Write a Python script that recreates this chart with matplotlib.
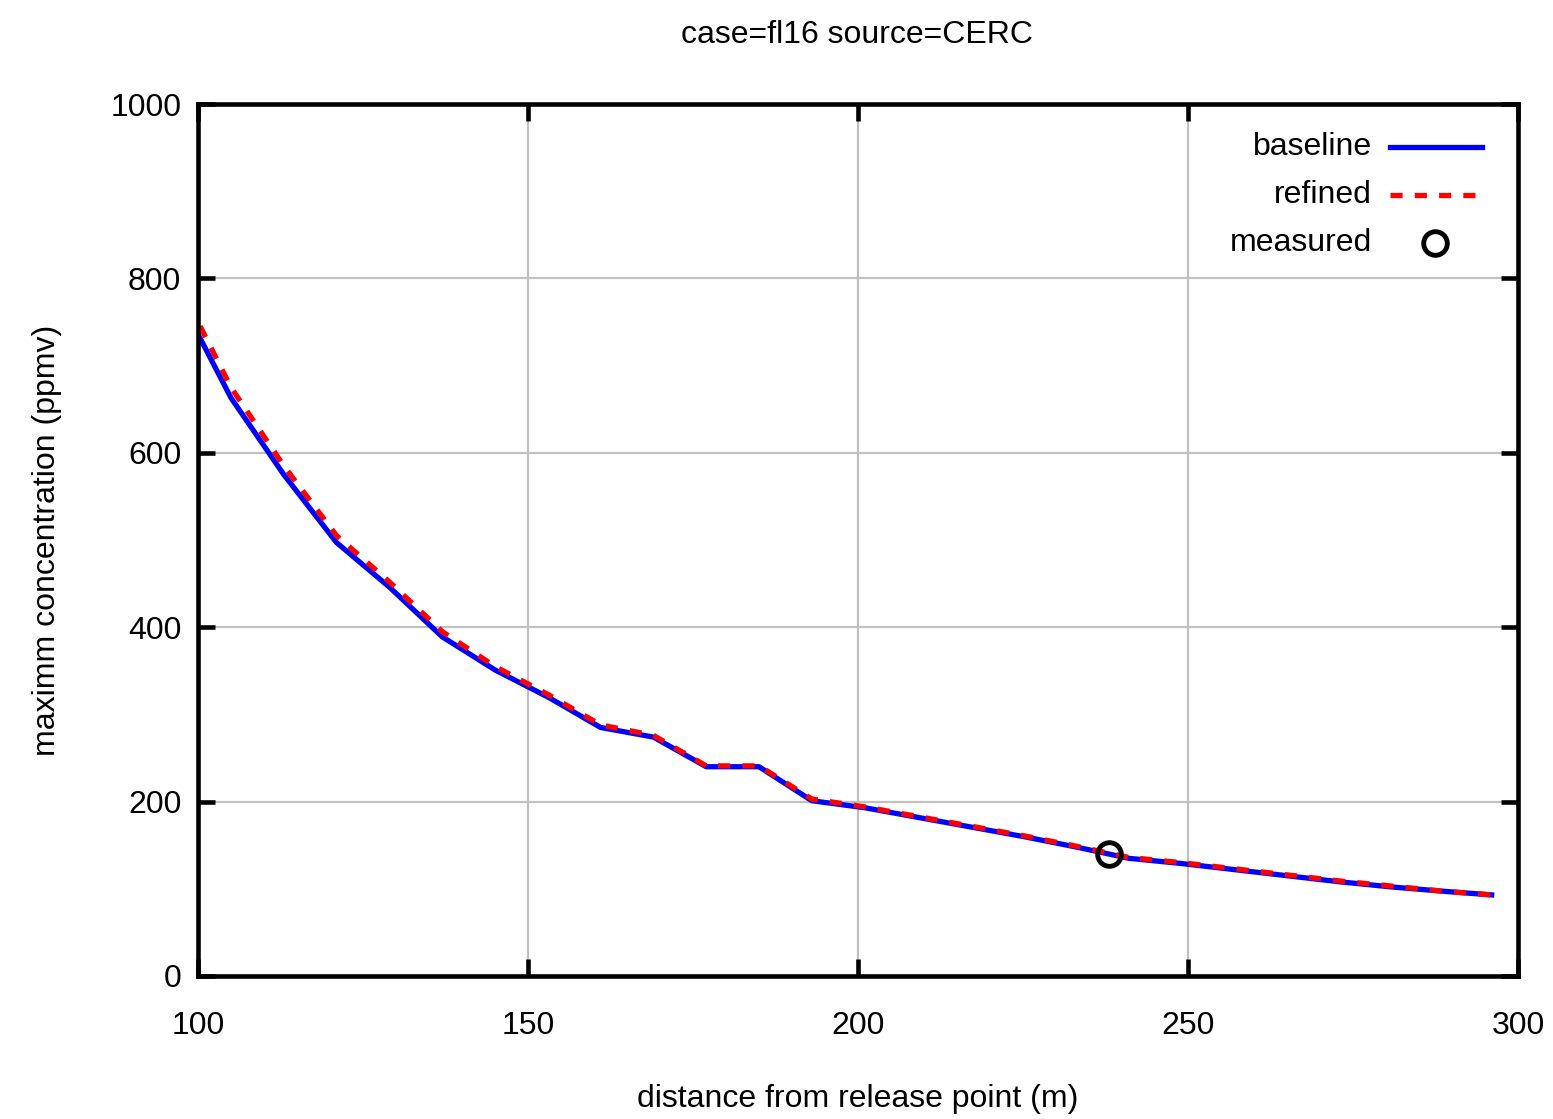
import matplotlib
matplotlib.use("Agg")
import matplotlib.pyplot as plt

plt.rcParams['font.family'] = ['Liberation Sans', 'DejaVu Sans']

# distance from release point (m), model output every ~8 m
distance = [97, 105, 113, 121, 129, 137, 145, 153, 161, 169, 177, 185, 193,
            201, 209, 217, 225, 233, 241, 249, 257, 265, 273, 281, 289, 296]
baseline = [780, 663, 575, 497, 446, 389, 351, 320, 285, 274, 240, 240, 201,
            193, 182, 171, 160, 148, 135, 129, 122, 115, 108, 102, 97, 93]
refined = [795, 675, 585, 505, 452, 395, 355, 323, 288, 276, 241, 241, 203,
           194, 183, 172, 161, 149, 136, 130, 123, 116, 109, 103, 97, 93]
measured_x = [238]
measured_y = [140]

xticks = [100, 150, 200, 250, 300]
yticks = [0, 200, 400, 600, 800, 1000]

FS = 23

fig = plt.figure(figsize=(15.53, 11.19), dpi=100)
ax = fig.add_axes([0.1275, 0.1278, 0.85, 0.7792])

ax.plot(distance, baseline, color='#0000ff', lw=3.8)
ax.plot(distance, refined, color='#ff0000', lw=3.8, dashes=(2.3, 2.3))
ax.plot(measured_x, measured_y, 'o', mfc='none', mec='black', ms=17, mew=3.5)

ax.set_xlim(100, 300)
ax.set_ylim(0, 1000)
ax.set_xticks(xticks)
ax.set_yticks(yticks)
ax.grid(True, color='#c0c0c0', lw=1.6)
ax.tick_params(direction='in', length=12, width=3.3, top=True, right=True,
               labelsize=FS)
ax.tick_params(axis='x', pad=25)
ax.tick_params(axis='y', pad=12)
for s in ax.spines.values():
    s.set_linewidth(3.3)

ax.set_xlabel('distance from release point (m)', fontsize=FS, labelpad=31)
ax.set_ylabel('maximm concentration (ppmv)', fontsize=FS, labelpad=35)
fig.text(0.5518, 0.969, 'case=fl16 source=CERC', fontsize=FS,
         ha='center', va='center')

# legend, gnuplot style: text right-aligned, sample to the right
tr = ax.transAxes
rows = [0.951, 0.8956, 0.841]
ax.text(0.8894, rows[0], 'baseline', transform=tr, ha='right', va='center', fontsize=FS)
ax.text(0.8894, rows[1], 'refined', transform=tr, ha='right', va='center', fontsize=FS)
ax.text(0.8894, rows[2], 'measured', transform=tr, ha='right', va='center', fontsize=FS)
ax.plot([0.903, 0.9727], [rows[0], rows[0]], transform=tr, color='#0000ff', lw=3.8)
ax.plot([0.903, 0.9727], [rows[1], rows[1]], transform=tr, color='#ff0000', lw=3.8, dashes=(2.3, 2.3))
ax.plot([0.937], [rows[2]], 'o', transform=tr, mfc='none', mec='black', ms=17, mew=3.5)

fig.savefig('out.png', dpi=100)
